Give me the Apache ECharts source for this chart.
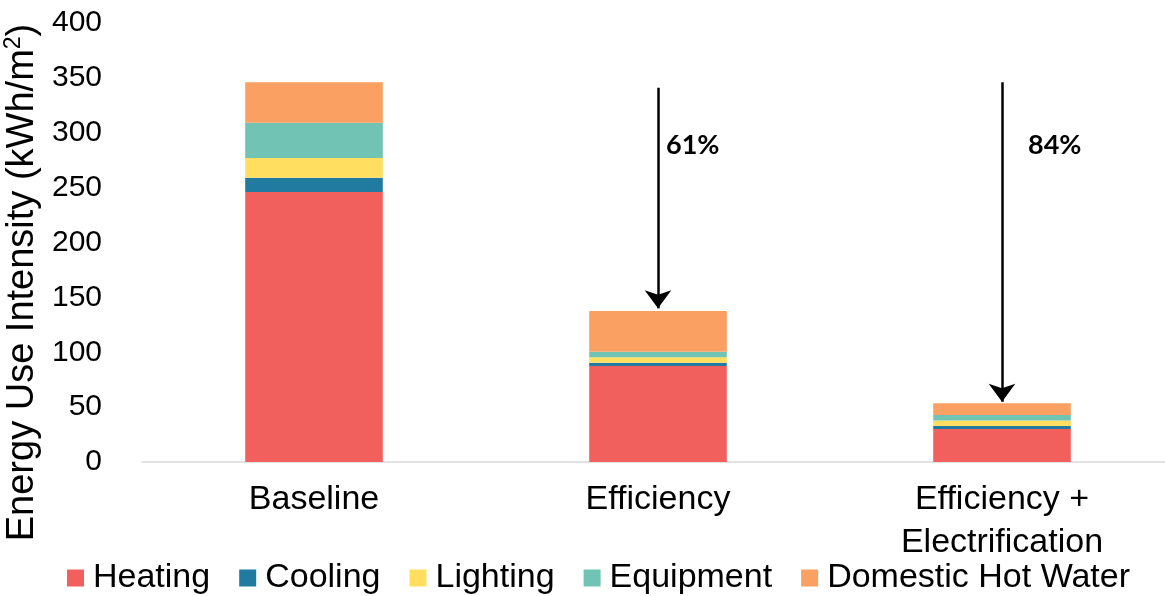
<!DOCTYPE html>
<html>
<head>
<meta charset="utf-8">
<script src="https://cdn.jsdelivr.net/npm/echarts@6/dist/echarts.min.js"></script>
<style>
  html, body { margin: 0; padding: 0; background: #fff; }
  #chart { width: 1165px; height: 596px; }
</style>
</head>
<body>
<div id="chart"></div>
<script>
// Energy use intensity by scenario, stacked by end use (kWh/m2)
var scenarios = ['Baseline', 'Efficiency', 'Efficiency +\nElectrification'];
var heating   = [246, 87.5, 30];
var cooling   = [13, 3, 2.7];
var lighting  = [18, 5, 5];
var equipment = [32, 5, 5.2];
var hotWater  = [37, 37, 10.6];
var yTicks = [0, 50, 100, 150, 200, 250, 300, 350, 400];

// Reduction arrows: scenario, start value, end value, label
var arrowScenarios = ['Efficiency', 'Efficiency +\nElectrification'];
var arrowStart = [341, 346];
var arrowEnd = [140, 55];
var reductionLabels = ['61%', '84%'];
var reductionLabelValue = [289, 289];

var FONT = '"Liberation Sans", Arial, sans-serif';

var seriesDefs = [
  { name: 'Heating', data: heating, color: '#F2605E' },
  { name: 'Cooling', data: cooling, color: '#217AA0' },
  { name: 'Lighting', data: lighting, color: '#FFDE60' },
  { name: 'Equipment', data: equipment, color: '#71C3B3' },
  { name: 'Domestic Hot Water', data: hotWater, color: '#F9A062' }
];

var series = seriesDefs.map(function (d) {
  return {
    name: d.name,
    type: 'bar',
    stack: 'eui',
    barWidth: '40%',
    data: d.data,
    itemStyle: { color: d.color },
    emphasis: { disabled: true }
  };
});

var last = series[series.length - 1];
last.markLine = {
  silent: true,
  symbol: ['none', 'arrow'],
  symbolSize: [20, 18],
  precision: 1,
  lineStyle: { color: '#000', width: 2.5, type: 'solid' },
  label: { show: false },
  data: arrowScenarios.map(function (s, i) {
    return [{ coord: [s, arrowStart[i]] }, { coord: [s, arrowEnd[i]] }];
  })
};
last.markPoint = {
  silent: true,
  symbol: 'rect',
  symbolSize: 0,
  data: arrowScenarios.map(function (s, i) {
    return {
      name: reductionLabels[i],
      coord: [s, reductionLabelValue[i]],
      label: { distance: i === 0 ? 8 : 26 }
    };
  }),
  label: {
    show: true,
    position: 'right',
    formatter: '{b}',
    color: '#000',
    fontFamily: 'Lato, "Open Sans", sans-serif',
    fontWeight: 'bold',
    fontSize: 27
  }
};

var chart = echarts.init(document.getElementById('chart'), null, { renderer: 'canvas' });
chart.setOption({
  animation: false,
  backgroundColor: '#fff',
  grid: { left: 142, top: 23, width: 1032, height: 439, outerBoundsMode: 'none' },
  legend: {
    bottom: -4,
    left: 62,
    icon: 'rect',
    itemWidth: 17,
    itemHeight: 17,
    itemGap: 29,
    selectedMode: false,
    textStyle: { fontFamily: FONT, fontSize: 34, color: '#000', padding: [0, 0, 0, 4] },
    data: seriesDefs.map(function (d) { return d.name; })
  },
  xAxis: {
    type: 'category',
    data: scenarios,
    axisLine: { lineStyle: { color: '#D9D9D9', width: 1.5 } },
    axisTick: { show: false },
    axisLabel: {
      fontFamily: FONT, fontSize: 34, color: '#000', lineHeight: 43, margin: 16, interval: 0
    }
  },
  yAxis: {
    type: 'value',
    min: yTicks[0],
    max: yTicks[yTicks.length - 1],
    interval: yTicks[1] - yTicks[0],
    splitLine: { show: false },
    axisLine: { show: false },
    axisTick: { show: false },
    axisLabel: { fontFamily: FONT, fontSize: 30, color: '#000', margin: 40 },
    name: 'Energy Use Intensity (kWh/m{sup|2})',
    nameLocation: 'middle',
    nameGap: 97,
    nameTextStyle: {
      fontFamily: FONT,
      fontSize: 38,
      color: '#000',
      padding: [0, 80, 0, 0],
      rich: {
        sup: { fontFamily: FONT, fontSize: 23, color: '#000', verticalAlign: 'top', padding: [0, 0, 17, 0] }
      }
    }
  },
  series: series
});
</script>
</body>
</html>
